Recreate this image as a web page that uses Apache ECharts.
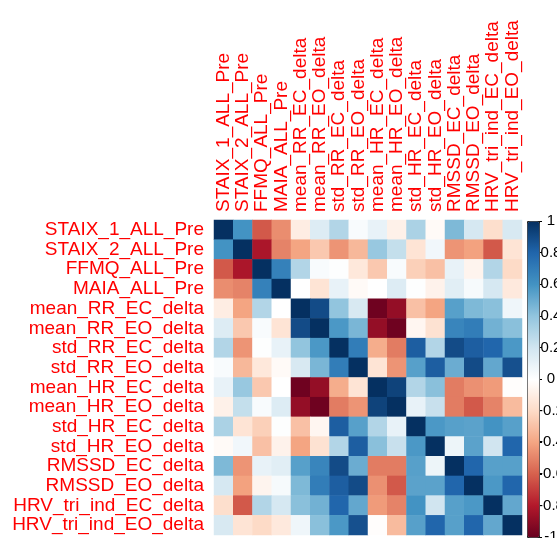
<!DOCTYPE html>
<html>
<head>
<meta charset="utf-8">
<script src="https://cdn.jsdelivr.net/npm/echarts@6/dist/echarts.min.js"></script>
<style>html,body{margin:0;padding:0;background:#fff;}#c{width:557px;height:538px;}</style>
</head>
<body>
<div id="c"></div>
<script>
const variables = ["STAIX_1_ALL_Pre","STAIX_2_ALL_Pre","FFMQ_ALL_Pre","MAIA_ALL_Pre",
  "mean_RR_EC_delta","mean_RR_EO_delta","std_RR_EC_delta","std_RR_EO_delta",
  "mean_HR_EC_delta","mean_HR_EO_delta","std_HR_EC_delta","std_HR_EO_delta",
  "RMSSD_EC_delta","RMSSD_EO_delta","HRV_tri_ind_EC_delta","HRV_tri_ind_EO_delta"];

const row_STAIX_1   = [1, 0.6, -0.62, -0.47, -0.1, 0.15, 0.3, 0.03, 0.1, -0.08, 0.32, -0.03, 0.45, 0.18, -0.18, 0.17];
const row_STAIX_2   = [0.6, 1, -0.82, -0.5, -0.4, -0.27, -0.45, -0.33, 0.38, 0.24, -0.15, 0.06, -0.45, -0.41, -0.62, -0.15];
const row_FFMQ      = [-0.62, -0.82, 1, 0.68, 0.3, 0.03, 0.01, -0.13, -0.27, 0.03, -0.24, -0.3, 0.1, -0.06, 0.3, -0.2];
const row_MAIA      = [-0.47, -0.5, 0.68, 1, 0, -0.15, 0.1, -0.03, 0, 0.15, 0.01, -0.07, 0.13, 0.04, 0.18, -0.12];
const row_mRR_EC    = [-0.1, -0.4, 0.3, 0, 1, 0.9, 0.4, 0.17, -0.98, -0.88, -0.3, -0.4, 0.55, 0.45, 0.42, 0.07];
const row_mRR_EO    = [0.15, -0.27, 0.03, -0.15, 0.9, 1, 0.58, 0.46, -0.88, -0.98, -0.05, -0.16, 0.66, 0.7, 0.48, 0.42];
const row_sRR_EC    = [0.3, -0.45, 0.01, 0.1, 0.4, 0.58, 1, 0.7, -0.37, -0.52, 0.83, 0.3, 0.9, 0.83, 0.8, 0.58];
const row_sRR_EO    = [0.03, -0.33, -0.13, -0.03, 0.17, 0.46, 0.7, 1, -0.15, -0.45, 0.55, 0.83, 0.5, 0.9, 0.52, 0.88];
const row_mHR_EC    = [0.1, 0.38, -0.27, 0, -0.98, -0.88, -0.37, -0.15, 1, 0.93, 0.3, 0.42, -0.52, -0.46, -0.43, -0.01];
const row_mHR_EO    = [-0.08, 0.24, 0.03, 0.15, -0.88, -0.98, -0.52, -0.45, 0.93, 1, 0.1, 0.23, -0.52, -0.62, -0.5, -0.32];
const row_sHR_EC    = [0.32, -0.15, -0.24, 0.01, -0.3, -0.05, 0.83, 0.55, 0.3, 0.1, 1, 0.58, 0.55, 0.54, 0.6, 0.55];
const row_sHR_EO    = [-0.03, 0.06, -0.3, -0.07, -0.4, -0.16, 0.3, 0.83, 0.42, 0.23, 0.58, 1, 0.08, 0.54, 0.2, 0.8];
const row_RMSSD_EC  = [0.45, -0.45, 0.1, 0.13, 0.55, 0.66, 0.9, 0.5, -0.52, -0.52, 0.55, 0.08, 1, 0.8, 0.55, 0.55];
const row_RMSSD_EO  = [0.18, -0.41, -0.06, 0.04, 0.45, 0.7, 0.83, 0.9, -0.46, -0.62, 0.54, 0.54, 0.8, 1, 0.58, 0.8];
const row_HRVtri_EC = [-0.18, -0.62, 0.3, 0.18, 0.42, 0.48, 0.8, 0.52, -0.43, -0.5, 0.6, 0.2, 0.55, 0.58, 1, 0.52];
const row_HRVtri_EO = [0.17, -0.15, -0.2, -0.12, 0.07, 0.42, 0.58, 0.88, -0.01, -0.32, 0.55, 0.8, 0.55, 0.8, 0.52, 1];

const corrRows = [row_STAIX_1,row_STAIX_2,row_FFMQ,row_MAIA,row_mRR_EC,row_mRR_EO,row_sRR_EC,row_sRR_EO,
  row_mHR_EC,row_mHR_EO,row_sHR_EC,row_sHR_EO,row_RMSSD_EC,row_RMSSD_EO,row_HRVtri_EC,row_HRVtri_EO];

const legendTicks = [1, 0.8, 0.6, 0.4, 0.2, 0, -0.2, -0.4, -0.6, -0.8, -1];

const paletteRdBu = ["#67001F","#B2182B","#D6604D","#F4A582","#FDDBC7","#FFFFFF","#D1E5F0","#92C5DE","#4393C3","#2166AC","#053061"];

const cells = [];
corrRows.forEach((row, r) => row.forEach((v, c) => cells.push([c, r, v])));

const font = "'Liberation Sans', Arial, sans-serif";
const chart = echarts.init(document.getElementById('c'), null, {renderer: 'canvas'});
chart.setOption({
  animation: false,
  backgroundColor: '#ffffff',
  grid: [
    {left: 214, top: 220, width: 308, height: 315, outerBoundsMode: 'none', containLabel: false},
    {left: 527, top: 221, width: 12, height: 316, outerBoundsMode: 'none', containLabel: false}
  ],
  xAxis: [
    {type: 'category', data: variables, position: 'top', gridIndex: 0,
     axisLine: {show: false}, axisTick: {show: false}, splitLine: {show: false},
     axisLabel: {rotate: -90, interval: 0, margin: 8, color: '#FF0000', fontSize: 19, fontFamily: font}},
    {type: 'value', gridIndex: 1, show: false, min: 0, max: 1}
  ],
  yAxis: [
    {type: 'category', data: variables, inverse: true, gridIndex: 0,
     axisLine: {show: false}, axisTick: {show: false}, splitLine: {show: false},
     axisLabel: {interval: 0, margin: 10, color: '#FF0000', fontSize: 19, fontFamily: font}},
    {type: 'value', gridIndex: 1, min: -1, max: 1, interval: 0.2, position: 'right',
     axisLine: {show: false, onZero: false}, splitLine: {show: false},
     axisTick: {show: true, length: 3, lineStyle: {color: '#000', width: 1}},
     axisLabel: {margin: 0, color: '#000', fontSize: 15, fontFamily: font,
       formatter: v => '{c|' + legendTicks.find(t => Math.abs(t - v) < 1e-6) + '}',
       rich: {c: {width: 24, align: 'center', fontSize: 15, fontFamily: font, color: '#000'}}}}
  ],
  visualMap: {
    type: 'continuous', min: -1, max: 1, seriesIndex: 0, calculable: false,
    orient: 'vertical', left: 527, top: 221, itemWidth: 12, itemHeight: 316,
    padding: 0, borderColor: '#222', borderWidth: 1, text: null, showLabel: false,
    inRange: {color: paletteRdBu}, hoverLink: false
  },
  series: [{
    type: 'heatmap', xAxisIndex: 0, yAxisIndex: 0, data: cells,
    itemStyle: {borderWidth: 0}, emphasis: {disabled: true}
  }]
});
</script>
</body>
</html>
